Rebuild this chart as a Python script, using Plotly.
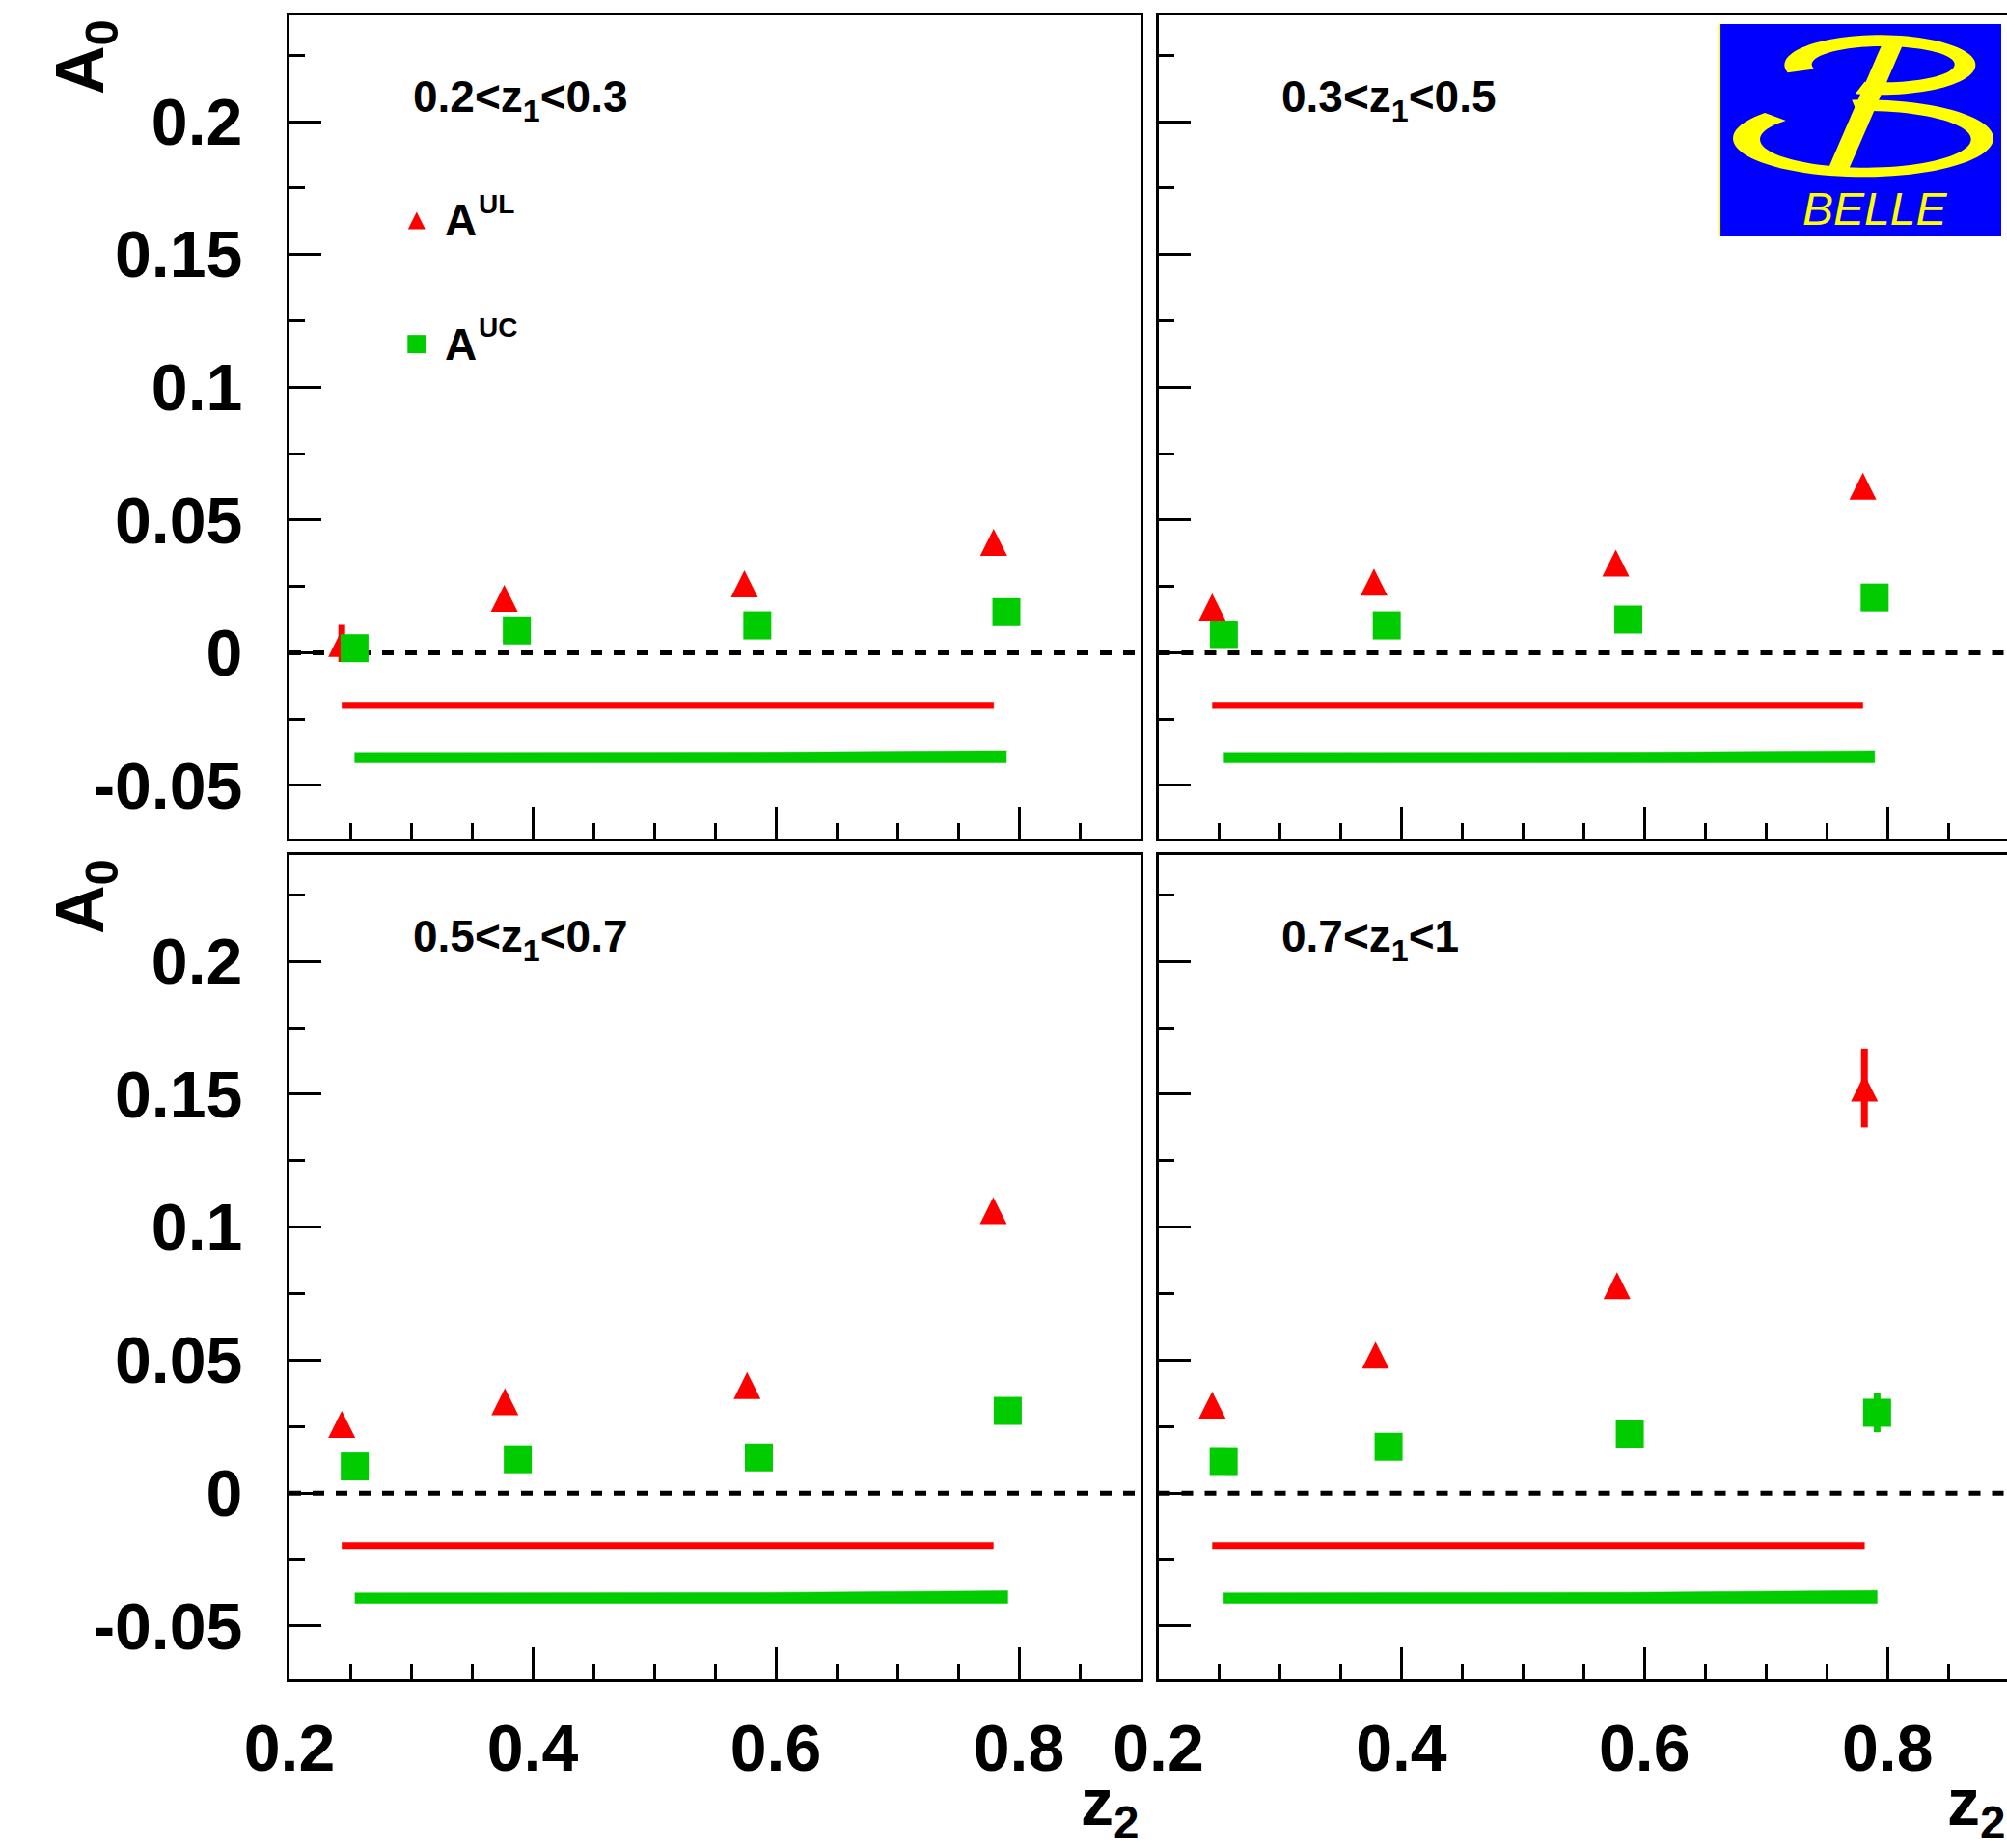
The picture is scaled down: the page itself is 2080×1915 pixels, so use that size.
import numpy as np
import plotly.graph_objects as go

W, H = 2080, 1915

# ---------------- data ----------------
panel_labels = ["0.2&lt;z<sub>1</sub>&lt;0.3", "0.3&lt;z<sub>1</sub>&lt;0.5",
                "0.5&lt;z<sub>1</sub>&lt;0.7", "0.7&lt;z<sub>1</sub>&lt;1"]

# A^UL (red triangles)
ul_x = [
    [0.2430, 0.3767, 0.5742, 0.7792],
    [0.2443, 0.3774, 0.5764, 0.7797],
    [0.2430, 0.3772, 0.5764, 0.7789],
    [0.2443, 0.3787, 0.5774, 0.7810],
]
ul_y = [
    [0.0035, 0.0205, 0.0259, 0.0416],
    [0.0172, 0.0266, 0.0338, 0.0627],
    [0.0258, 0.0344, 0.0404, 0.1062],
    [0.0331, 0.0519, 0.0780, 0.1523],
]
ul_err = [
    [0.0070, 0.0020, 0.0020, 0.0022],
    [0.0020, 0.0020, 0.0020, 0.0024],
    [0.0020, 0.0020, 0.0022, 0.0024],
    [0.0020, 0.0022, 0.0024, 0.0148],
]
# A^UC (green squares)
uc_x = [
    [0.2535, 0.3870, 0.5848, 0.7897],
    [0.2539, 0.3879, 0.5867, 0.7894],
    [0.2537, 0.3878, 0.5861, 0.7908],
    [0.2537, 0.3894, 0.5879, 0.7914],
]
uc_y = [
    [0.0017, 0.0084, 0.0103, 0.0153],
    [0.0067, 0.0103, 0.0125, 0.0208],
    [0.0100, 0.0127, 0.0134, 0.0309],
    [0.0120, 0.0174, 0.0223, 0.0302],
]
uc_err = [
    [0.0020, 0.0020, 0.0020, 0.0030],
    [0.0020, 0.0020, 0.0020, 0.0030],
    [0.0020, 0.0020, 0.0025, 0.0035],
    [0.0025, 0.0030, 0.0035, 0.0073],
]
# systematic bands
ul_sys_base = -0.0210
uc_sys_base = -0.0415
ul_sys = [
    [0.0024, 0.0024, 0.0024, 0.0024],
    [0.0024, 0.0024, 0.0024, 0.0024],
    [0.0024, 0.0024, 0.0024, 0.0024],
    [0.0024, 0.0024, 0.0024, 0.0024],
]
uc_sys = [
    [0.0039, 0.0039, 0.0040, 0.0046],
    [0.0039, 0.0039, 0.0040, 0.0046],
    [0.0039, 0.0039, 0.0040, 0.0047],
    [0.0039, 0.0040, 0.0041, 0.0048],
]

x_tick_vals = [0.2, 0.4, 0.6, 0.8]
x_tick_text = ["0.2", "0.4", "0.6", "0.8"]
y_tick_vals = [-0.05, 0.0, 0.05, 0.1, 0.15, 0.2]
y_tick_text = ["-0.05", "0", "0.05", "0.1", "0.15", "0.2"]

# ---------------- style ----------------
RED = "#FF0000"
GREEN = "#00CC00"
FONT = "Liberation Sans, Arial, Helvetica, sans-serif"
TRI = 28
SQ = 29

x_left = [300 / W, 1182 / W]
x_right = [1200.5 / W, 1.0]
y_top = [1 - 869 / H, 1 - 16 / H]
y_bot = [1 - 1740 / H, 1 - 886 / H]
domains = [(x_left, y_top), (x_right, y_top), (x_left, y_bot), (x_right, y_bot)]
x_ranges = [[0.2, 0.9], [0.2, 0.8983], [0.2, 0.9], [0.2, 0.8983]]
y_range = [-0.07, 0.24]

fig = go.Figure()

for i in range(4):
    xa = "x" if i == 0 else f"x{i+1}"
    ya = "y" if i == 0 else f"y{i+1}"
    # systematic bands
    for xs, base, sys, col in [(ul_x[i], ul_sys_base, ul_sys[i], RED),
                               (uc_x[i], uc_sys_base, uc_sys[i], GREEN)]:
        upper = [base + s for s in sys]
        lower = [base for _ in sys]
        fig.add_trace(go.Scatter(
            x=list(xs) + list(xs[::-1]), y=upper + lower[::-1],
            fill="toself", fillcolor=col, mode="lines",
            line=dict(color=col, width=0.5),
            xaxis=xa, yaxis=ya, showlegend=False, hoverinfo="skip"))
    # A^UL
    fig.add_trace(go.Scatter(
        x=ul_x[i], y=ul_y[i], mode="markers",
        marker=dict(symbol="arrow-down", angle=180, standoff=TRI / 2, size=TRI,
                    color=RED, line=dict(width=0)),
        error_y=dict(type="data", array=ul_err[i], color=RED, thickness=7, width=0),
        xaxis=xa, yaxis=ya, showlegend=False))
    # A^UC
    fig.add_trace(go.Scatter(
        x=uc_x[i], y=uc_y[i], mode="markers",
        marker=dict(symbol="square", size=SQ, color=GREEN, line=dict(width=0)),
        error_y=dict(type="data", array=uc_err[i], color=GREEN, thickness=7, width=0),
        xaxis=xa, yaxis=ya, showlegend=False))

# legend markers (TL panel)
LEG_X = 0.3046
LEG_Y = [0.1628, 0.1162]
fig.add_trace(go.Scatter(x=[LEG_X], y=[LEG_Y[0]], mode="markers",
                         marker=dict(symbol="arrow-down", angle=180, standoff=9, size=18,
                                     color=RED, line=dict(width=0)),
                         showlegend=False, hoverinfo="skip"))
fig.add_trace(go.Scatter(x=[LEG_X], y=[LEG_Y[1]], mode="markers",
                         marker=dict(symbol="square", size=19, color=GREEN, line=dict(width=0)),
                         showlegend=False, hoverinfo="skip"))

layout = dict(
    width=W, height=H, margin=dict(l=0, r=0, t=0, b=0, autoexpand=False),
    paper_bgcolor="white", plot_bgcolor="white",
    font=dict(family=FONT, size=68, color="black", weight="bold"),
    showlegend=False,
)

shapes = []
annotations = []
for i in range(4):
    sx = "" if i == 0 else str(i + 1)
    xd, yd = domains[i]
    bottom = i >= 2
    left = i % 2 == 0
    layout["xaxis" + sx] = dict(
        domain=xd, range=x_ranges[i], anchor="y" + sx, automargin=False,
        showline=True, mirror=True, linecolor="black", linewidth=3,
        ticks="inside", ticklen=33, tickwidth=3, tickcolor="black",
        tickmode="array", tickvals=x_tick_vals, ticktext=x_tick_text,
        showticklabels=bottom, ticklabelstandoff=10,
        minor=dict(ticks="inside", ticklen=16, tickwidth=3, tickcolor="black", dtick=0.05, tick0=0.2),
        showgrid=False, zeroline=False, fixedrange=True,
    )
    layout["yaxis" + sx] = dict(
        domain=yd, range=y_range, anchor="x" + sx, automargin=False,
        showline=True, mirror=left, linecolor="black", linewidth=3,
        ticks="inside", ticklen=33, tickwidth=3, tickcolor="black",
        tickmode="array", tickvals=y_tick_vals, ticktext=y_tick_text,
        showticklabels=left, ticklabelstandoff=32,
        minor=dict(ticks="inside", ticklen=16, tickwidth=3, tickcolor="black", dtick=0.025, tick0=0),
        showgrid=False, zeroline=False, fixedrange=True,
    )
    xr = "x" if i == 0 else f"x{i+1}"
    yr = "y" if i == 0 else f"y{i+1}"
    # dashed zero line
    shapes.append(dict(type="line", xref=xr + " domain", yref=yr, x0=0, x1=1, y0=0, y1=0,
                       line=dict(color="black", width=5, dash="12px,12px"), layer="below"))
    # panel label
    annotations.append(dict(xref=xr, yref=yr, x=0.3, y=0.2083, xanchor="left", yanchor="middle",
                            text=panel_labels[i], showarrow=False,
                            font=dict(family=FONT, size=46, color="black", weight="bold")))
    if left:
        annotations.append(dict(xref="paper", yref="paper", x=88 / W, y=yd[1] - 2 / H,
                                xanchor="center", yanchor="top", textangle=-90,
                                text="A<sub>0</sub>", showarrow=False,
                                font=dict(family=FONT, size=70, color="black", weight="bold")))
    if bottom:
        annotations.append(dict(xref="paper", yref="paper", x=xd[1] if left else 1.0, y=1 - 1872 / H,
                                xanchor="right", yanchor="middle",
                                text="z<sub>2</sub>", showarrow=False,
                                font=dict(family=FONT, size=68, color="black", weight="bold")))

# legend texts: "A" plus raised superscript
for k, sup in enumerate(["UL", "UC"]):
    annotations.append(dict(xref="x", yref="y", x=0.3262, y=LEG_Y[k], xanchor="left", yanchor="middle",
                            text="A", showarrow=False,
                            font=dict(family=FONT, size=46, color="black", weight="bold")))
    annotations.append(dict(xref="x", yref="y", x=0.3262, y=LEG_Y[k], xanchor="left", yanchor="middle",
                            xshift=35, yshift=17,
                            text=sup, showarrow=False,
                            font=dict(family=FONT, size=28, color="black", weight="bold")))

# ---------------- BELLE logo (decoration) ----------------
def P(zx, zy):
    # logo sketch coordinates -> paper coordinates
    px = 1770 + zx / 3.0
    py = 10 + zy / 3.0
    return px / W, 1 - py / H

x0, y0 = P(37, 45)
x1, y1 = P(912, 705)
shapes.append(dict(type="rect", xref="paper", yref="paper", x0=x0, x1=x1, y0=y1, y1=y0,
                   fillcolor="#0000FF", line=dict(width=0), layer="above"))
lx, _ = P(37, 45)
shapes.append(dict(type="line", xref="paper", yref="paper", x0=lx, x1=lx, y0=y1, y1=y0,
                   line=dict(color="#FFFF00", width=1.5), layer="above"))


def ring_path(oc, orx, ory, ic, irx, iry, a0, a1, n=80):
    th = np.radians(np.linspace(a0, a1, n))
    pts = [(oc[0] + orx * np.cos(t), oc[1] - ory * np.sin(t)) for t in th]
    pts += [(ic[0] + irx * np.cos(t), ic[1] - iry * np.sin(t)) for t in th[::-1]]
    s = ""
    for k, (zx, zy) in enumerate(pts):
        px, py = P(zx, zy)
        s += ("M" if k == 0 else "L") + f"{px:.5f},{py:.5f}"
    return s + "Z"

YEL = "#FFFF00"
shapes.append(dict(type="path", xref="paper", yref="paper",
                   path=ring_path((535, 172), 297, 93, (545, 170), 222, 56, 195, -105),
                   fillcolor=YEL, line=dict(width=0), layer="above"))
shapes.append(dict(type="path", xref="paper", yref="paper",
                   path=ring_path((483, 400), 405, 120, (490, 403), 328, 88, 139, 455),
                   fillcolor=YEL, line=dict(width=0), layer="above"))
stem = [(545, 100), (610, 100), (440, 492), (375, 492)]
s = ""
for k, (zx, zy) in enumerate(stem):
    px, py = P(zx, zy)
    s += ("M" if k == 0 else "L") + f"{px:.5f},{py:.5f}"
shapes.append(dict(type="path", xref="paper", yref="paper", path=s + "Z",
                   fillcolor=YEL, line=dict(width=0), layer="above"))
bx, by = P(520, 620)
annotations.append(dict(xref="paper", yref="paper", x=bx, y=by, xanchor="center", yanchor="middle",
                        text="BELLE", showarrow=False,
                        font=dict(family=FONT, size=48, color=YEL, weight="normal", style="italic")))

layout["shapes"] = shapes
layout["annotations"] = annotations
fig.update_layout(**layout)

fig.write_html("out.html")
